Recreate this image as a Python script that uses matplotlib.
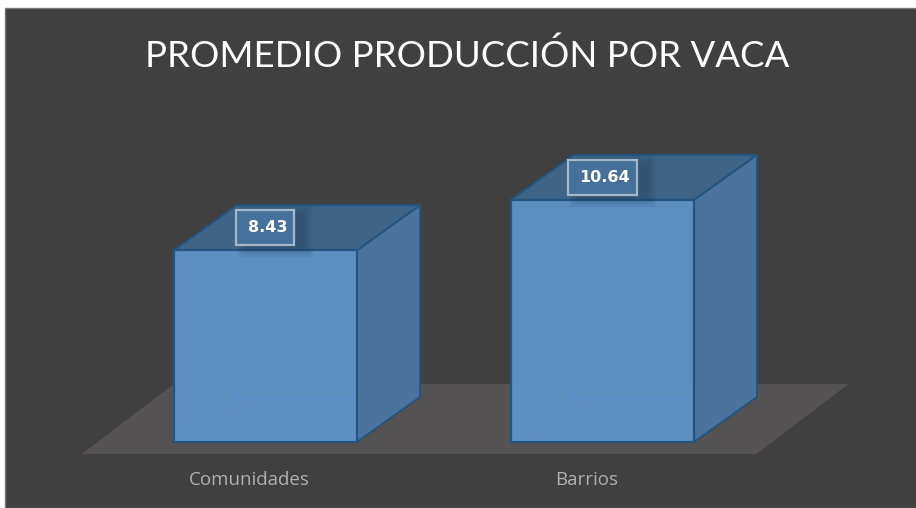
import matplotlib
matplotlib.use('Agg')
import matplotlib.pyplot as plt
from matplotlib.patches import Polygon, Rectangle

categories = ['Comunidades', 'Barrios']
values = [8.43, 10.64]
labels = ['8.43', '10.64']
title = 'PROMEDIO PRODUCCIÓN POR VACA'

W, H = 916, 508
PX_CAT = 337.0   # pixels per category
PX_VAL = 22.76   # pixels per unit
X0 = 265.5       # pixel of first category
Y0 = 442.0       # pixel of value 0

bar_w = 183 / PX_CAT
dx = 63 / PX_CAT
dy = 45 / PX_VAL

fig = plt.figure(figsize=(W / 100, H / 100), dpi=100, facecolor='white')
ax = fig.add_axes([0, 0, 1, 1])
ax.set_xlim(-X0 / PX_CAT, (W - X0) / PX_CAT)
ax.set_ylim((Y0 - H) / PX_VAL, Y0 / PX_VAL)
ax.axis('off')

# fondo oscuro, con margen blanco arriba y a la izquierda
bg = Rectangle((5 / W, 0), 1, (H - 8) / H, transform=ax.transAxes,
               fc='#404040', ec='#787878', lw=1, zorder=0)
ax.add_patch(bg)

# piso
fx0, fx1 = -0.545, 1.457
fy = -12 / PX_VAL
floor_dx = 92 / PX_CAT
floor_dy = 70 / PX_VAL
ax.add_patch(Polygon([(fx0, fy), (fx1, fy), (fx1 + floor_dx, fy + floor_dy),
                      (fx0 + floor_dx, fy + floor_dy)],
                     closed=True, fc='#545252', ec='none', zorder=1))

edge = '#22557f'
for i, v in enumerate(values):
    l = i - bar_w / 2
    r = i + bar_w / 2
    ax.add_patch(Polygon([(r, v), (r + dx, v + dy), (r + dx, dy), (r, 0)],
                         closed=True, fc='#4a76a2', ec=edge, lw=1.4, alpha=0.95, zorder=3))
    ax.add_patch(Polygon([(l, v), (r, v), (r + dx, v + dy), (l + dx, v + dy)],
                         closed=True, fc='#3e6488', ec=edge, lw=1.4, zorder=3))
    ax.add_patch(Rectangle((l, 0), bar_w, v, fc='#5e93c8', ec='none', alpha=0.95, zorder=4))
    # aristas interiores
    ax.plot([l, l + dx, l + dx], [0, dy, v], color='#5793cd', lw=1, zorder=5,
            solid_capstyle='butt')
    ax.plot([l + dx, r], [dy, dy], color='#5793cd', lw=1, zorder=5, solid_capstyle='butt')
    ax.add_patch(Rectangle((l, 0), bar_w, v, fc='none', ec=edge, lw=1.6, zorder=6))

    # sombra de la etiqueta
    box_w = (58 if i == 0 else 69) / PX_CAT
    box_h = 35 / PX_VAL
    cy = v + 22.5 / PX_VAL
    for grow in [9, 7, 5, 3, 1]:
        ax.add_patch(Rectangle((i - box_w / 2 + 10 / PX_CAT - grow / PX_CAT,
                                cy - box_h / 2 - (3 + grow) / PX_VAL),
                               box_w + 2 * grow / PX_CAT, box_h + 2 * grow / PX_VAL,
                               fc='#1d3a55', ec='none', alpha=0.07, zorder=7))
    ax.add_patch(Rectangle((i - box_w / 2, cy - box_h / 2), box_w, box_h,
                           fc='#44729c', ec='#a3b9cb', lw=1.6, zorder=8))
    ax.text(i + 2 / PX_CAT, cy, labels[i], color='white', fontsize=11.5, fontweight='bold',
            family='DejaVu Sans', ha='center', va='center', zorder=9)
    ax.text(i - 16 / PX_CAT, -38 / PX_VAL, categories[i], color='#b0b0b0', fontsize=13.5,
            family='Open Sans', ha='center', va='center', zorder=9)

ax.text(0.5105, 1 - 67 / H, title, transform=ax.transAxes, color='white', fontsize=26.4,
        family='Lato', ha='center', va='baseline', zorder=9)

fig.savefig('out.png', dpi=100, facecolor=fig.get_facecolor())
